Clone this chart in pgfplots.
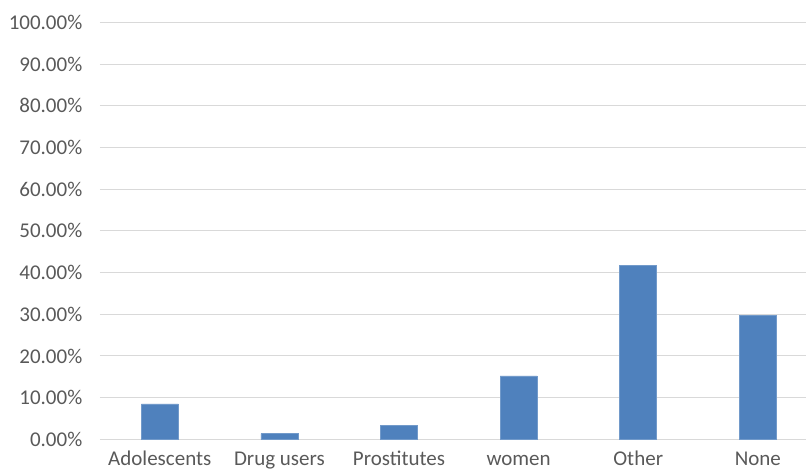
\documentclass[border=0pt]{standalone}
\usepackage{fontspec}
\setmainfont{Carlito}
\usepackage{pgfplots}
\pgfplotsset{compat=1.18}
\definecolor{barblue}{HTML}{4F81BD}
\definecolor{gridgray}{HTML}{D9D9D9}
\definecolor{labelgray}{HTML}{595959}
\begin{document}
\begin{tikzpicture}
\begin{axis}[
    scale only axis,
    width=353pt,
    height=208.4pt,
    at={(0,0)}, anchor=south west,
    ybar,
    bar width=18.5pt,
    xmin=-0.5, xmax=5.403,
    ymin=0, ymax=100,
    ytick={0,10,...,100},
    xtick={0,1,2,3,4,5},
    xticklabels={Adolescents,Drug users,Prostitutes,women,Other,None},
    axis x line*=bottom,
    axis y line*=left,
    x axis line style={draw=gridgray, line width=0.5pt, -},
    y axis line style={draw=none},
    ymajorgrids,
    grid style={draw=gridgray, line width=0.5pt},
    major tick length=0pt,
    /pgf/number format/assume math mode=true,
    yticklabel={\pgfmathprintnumber[fixed,fixed zerofill,precision=2]{\tick}\%},
    yticklabel style={anchor=east, inner sep=0pt, xshift=-8.65pt, text=labelgray, font=\fontsize{10.5}{12}\selectfont},
    xticklabel style={anchor=base, inner sep=0pt, yshift=-13.2pt, text=labelgray, font=\fontsize{10.5}{12}\selectfont},
    clip=false,
]
\addplot[fill=barblue, draw=barblue!80!white, line width=0.3pt] coordinates {
  (0, 8.47) (1, 1.34) (2, 3.26) (3, 15.19) (4, 41.7) (5, 29.7)};
\end{axis}
\pgfresetboundingbox
\useasboundingbox (-50pt,-14.85pt) rectangle (353pt,219.65pt);
\end{tikzpicture}
\end{document}
